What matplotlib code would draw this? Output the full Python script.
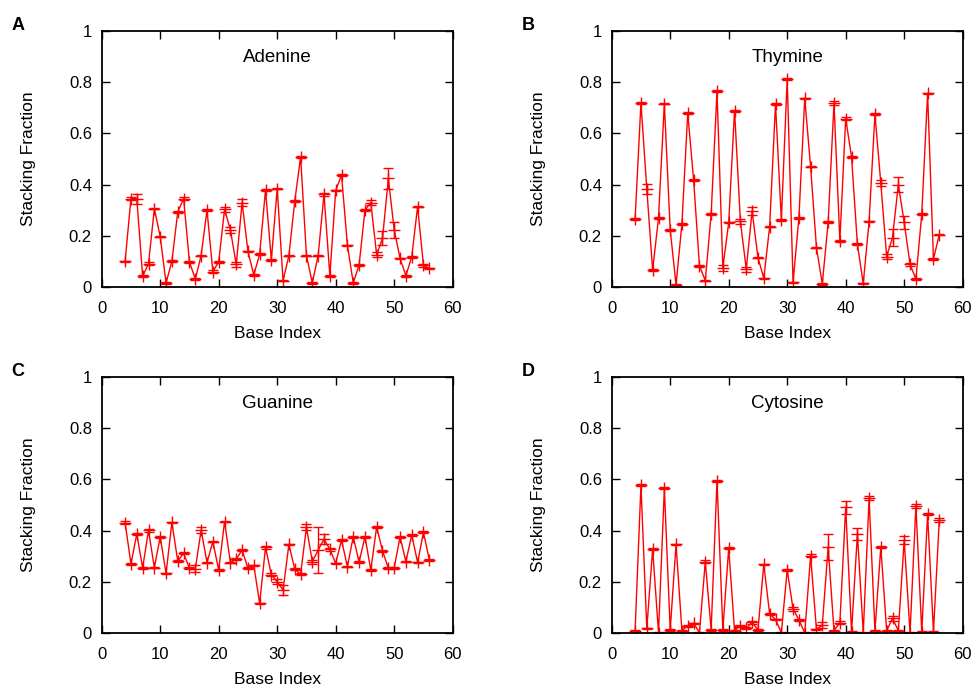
import numpy as np
import matplotlib
matplotlib.use('Agg')
import matplotlib.pyplot as plt
import matplotlib.ticker as ticker

plt.rcParams['font.family'] = ['Liberation Sans', 'DejaVu Sans']

base_index = list(range(4, 57))

adenine = [0.10, 0.345, 0.345, 0.042, 0.091, 0.306, 0.197, 0.016, 0.101, 0.293,
           0.345, 0.098, 0.031, 0.123, 0.300, 0.060, 0.098, 0.303, 0.223, 0.088,
           0.330, 0.139, 0.047, 0.128, 0.379, 0.106, 0.384, 0.025, 0.123, 0.335,
           0.508, 0.123, 0.016, 0.123, 0.362, 0.044, 0.377, 0.437, 0.163, 0.016,
           0.086, 0.300, 0.330, 0.126, 0.190, 0.424, 0.223, 0.112, 0.044, 0.118,
           0.314, 0.084, 0.073]
adenine_err = [0.003, 0.005, 0.02, 0.003, 0.005, 0.003, 0.003, 0.003, 0.003, 0.003,
               0.005, 0.003, 0.003, 0.003, 0.004, 0.006, 0.003, 0.01, 0.013, 0.008,
               0.013, 0.003, 0.003, 0.003, 0.005, 0.003, 0.003, 0.003, 0.003, 0.003,
               0.003, 0.003, 0.003, 0.003, 0.007, 0.003, 0.003, 0.004, 0.003, 0.003,
               0.003, 0.004, 0.01, 0.01, 0.027, 0.04, 0.03, 0.003, 0.003, 0.003,
               0.003, 0.004, 0.003]

thymine = [0.265, 0.719, 0.383, 0.066, 0.270, 0.716, 0.223, 0.009, 0.246, 0.680,
           0.419, 0.083, 0.025, 0.285, 0.764, 0.075, 0.252, 0.689, 0.256, 0.070,
           0.297, 0.115, 0.034, 0.236, 0.715, 0.262, 0.813, 0.018, 0.270, 0.737,
           0.470, 0.154, 0.012, 0.253, 0.719, 0.180, 0.658, 0.508, 0.167, 0.014,
           0.256, 0.676, 0.406, 0.119, 0.193, 0.400, 0.252, 0.088, 0.031, 0.285,
           0.756, 0.109, 0.205]
thymine_err = [0.003, 0.003, 0.018, 0.004, 0.003, 0.003, 0.003, 0.003, 0.003, 0.003,
               0.003, 0.003, 0.003, 0.003, 0.004, 0.012, 0.003, 0.004, 0.008, 0.01,
               0.017, 0.003, 0.003, 0.003, 0.004, 0.003, 0.003, 0.003, 0.003, 0.003,
               0.003, 0.003, 0.003, 0.003, 0.009, 0.003, 0.005, 0.003, 0.003, 0.003,
               0.003, 0.003, 0.012, 0.01, 0.033, 0.028, 0.026, 0.005, 0.003, 0.003,
               0.003, 0.004, 0.003]

guanine = [0.431, 0.270, 0.387, 0.254, 0.401, 0.255, 0.376, 0.233, 0.432, 0.281,
           0.311, 0.253, 0.251, 0.402, 0.275, 0.357, 0.246, 0.435, 0.275, 0.289,
           0.324, 0.253, 0.264, 0.116, 0.335, 0.227, 0.200, 0.168, 0.346, 0.250,
           0.229, 0.413, 0.279, 0.324, 0.367, 0.327, 0.272, 0.363, 0.259, 0.376,
           0.277, 0.376, 0.246, 0.415, 0.321, 0.253, 0.255, 0.376, 0.279, 0.383,
           0.276, 0.393, 0.286]
guanine_err = [0.005, 0.003, 0.003, 0.003, 0.005, 0.003, 0.003, 0.003, 0.003, 0.003,
               0.004, 0.004, 0.014, 0.012, 0.003, 0.003, 0.003, 0.003, 0.003, 0.003,
               0.003, 0.003, 0.003, 0.003, 0.005, 0.006, 0.01, 0.02, 0.003, 0.005,
               0.004, 0.012, 0.008, 0.09, 0.02, 0.006, 0.003, 0.003, 0.003, 0.003,
               0.003, 0.003, 0.003, 0.003, 0.003, 0.004, 0.004, 0.003, 0.003, 0.003,
               0.003, 0.004, 0.004]

cytosine = [0.009, 0.578, 0.018, 0.328, 0.001, 0.565, 0.012, 0.346, 0.009, 0.029,
            0.038, 0.001, 0.279, 0.012, 0.595, 0.012, 0.331, 0.009, 0.029, 0.018,
            0.042, 0.012, 0.268, 0.074, 0.053, 0.001, 0.246, 0.094, 0.051, 0.001,
            0.302, 0.014, 0.031, 0.335, 0.009, 0.040, 0.491, 0.005, 0.387, 0.001,
            0.526, 0.009, 0.336, 0.009, 0.057, 0.009, 0.363, 0.001, 0.497, 0.005,
            0.464, 0.005, 0.441]
cytosine_err = [0.003, 0.003, 0.003, 0.003, 0.002, 0.004, 0.003, 0.003, 0.003, 0.004,
                0.003, 0.002, 0.006, 0.004, 0.004, 0.003, 0.004, 0.003, 0.004, 0.004,
                0.005, 0.003, 0.003, 0.004, 0.003, 0.002, 0.004, 0.008, 0.004, 0.002,
                0.006, 0.003, 0.012, 0.05, 0.003, 0.006, 0.026, 0.003, 0.022, 0.002,
                0.008, 0.003, 0.004, 0.003, 0.011, 0.003, 0.014, 0.002, 0.008, 0.003,
                0.005, 0.003, 0.009]

panels = [
    ('A', 'Adenine', adenine, adenine_err, [101.7 / 977, 1 - 287 / 688]),
    ('B', 'Thymine', thymine, thymine_err, [611.7 / 977, 1 - 287 / 688]),
    ('C', 'Guanine', guanine, guanine_err, [101.7 / 977, 1 - 633 / 688]),
    ('D', 'Cytosine', cytosine, cytosine_err, [611.7 / 977, 1 - 633 / 688]),
]

fig = plt.figure(figsize=(9.77, 6.88), dpi=100)
w, h = 351 / 977, 256 / 688

for letter, name, vals, errs, (x0, y0) in panels:
    ax = fig.add_axes([x0, y0, w, h])
    ax.errorbar(base_index, vals, yerr=errs, color='#ff0000', lw=1.0,
                marker='+', markersize=8, mew=1.0, capsize=3.5, elinewidth=1.0,
                capthick=1.0)
    ax.set_xlim(0, 60)
    ax.set_ylim(0, 1)
    ax.xaxis.set_major_locator(ticker.MultipleLocator(10))
    ax.yaxis.set_major_locator(ticker.MultipleLocator(0.2))
    ax.yaxis.set_major_formatter(ticker.FuncFormatter(lambda v, p: '%g' % round(v, 2)))
    ax.tick_params(direction='in', top=True, right=True, length=6, width=1,
                   labelsize=12, pad=7)
    ax.tick_params(axis='x', pad=10)
    for s in ax.spines.values():
        s.set_linewidth(1.3)
    ax.set_xlabel('Base Index', fontsize=12.5, labelpad=7)
    ax.set_ylabel('Stacking Fraction', fontsize=12.5, labelpad=24)
    ax.text(0.5, 0.895, name, transform=ax.transAxes, ha='center', va='center',
            fontsize=13.5)
    fig.text(x0 - 90 / 977, y0 + h + 6 / 688, letter, fontsize=13, fontweight='bold',
             ha='left', va='center')

fig.savefig('out.png', dpi=100)
